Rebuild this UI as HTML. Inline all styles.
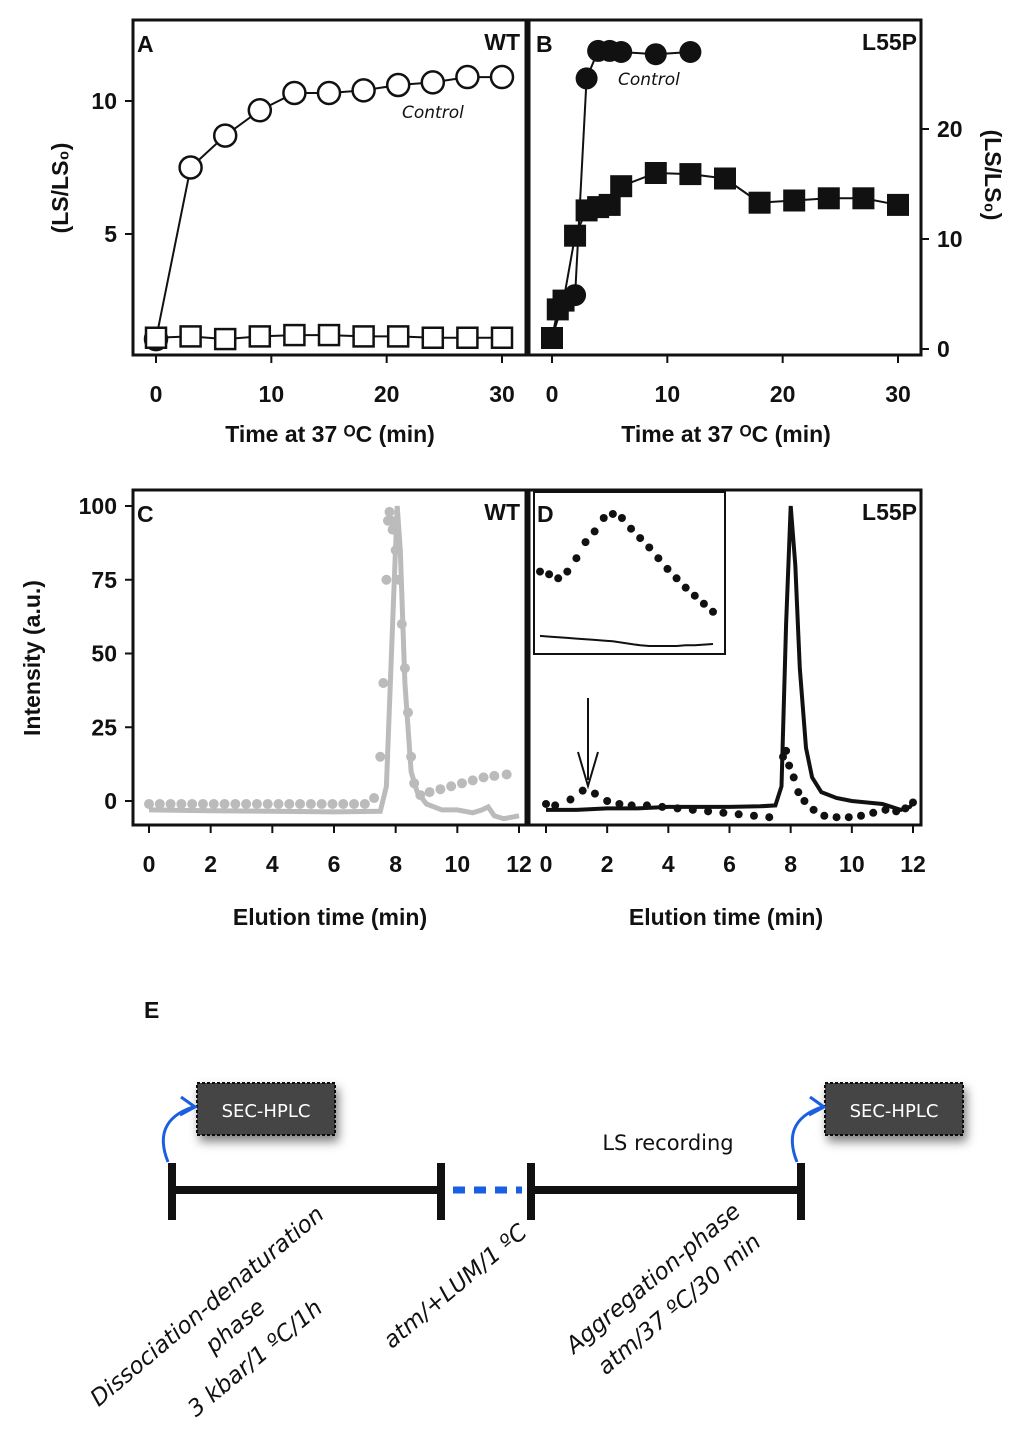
<!DOCTYPE html>
<html><head><meta charset="utf-8"><style>
body{margin:0;background:#fff}
svg{display:block;font-family:"Liberation Sans",sans-serif}
.t{font-weight:bold;font-size:23px;fill:#111}
.h{font-family:"DejaVu Sans",sans-serif;font-size:17px;fill:#111;font-style:italic}
</style></head><body>
<svg id="s" width="1024" height="1434" viewBox="0 0 1024 1434">
<defs><filter id="sh" x="-20%" y="-20%" width="150%" height="170%"><feDropShadow dx="3" dy="6" stdDeviation="5" flood-opacity="0.5"/></filter></defs>
</svg>
<script>
const aTime=[0,3,6,9,12,15,18,21,24,27,30];
const aControl=[1.05,7.5,8.7,9.65,10.3,10.3,10.4,10.6,10.7,10.9,10.9];
const aSample=[1.1,1.15,1.05,1.15,1.2,1.2,1.15,1.15,1.1,1.1,1.1];
const bCtlTime=[0,1,2,3,4,5,6,9,12];
const bControl=[1,4.4,4.9,24.6,27.1,27.1,27,26.8,27];
const bSqTime=[0,0.5,1,2,3,4,5,6,9,12,15,18,21,24,27,30];
const bSample=[1,3.6,4.4,10.3,12.6,12.9,13.1,14.8,16,15.9,15.5,13.3,13.5,13.7,13.7,13.1];
const cSolidT=[0,2,4,6,7.5,7.7,7.9,8.05,8.15,8.3,8.5,8.7,9,9.5,10,10.5,10.8,11,11.2,11.5,12];
const cSolidV=[-3,-3.3,-3.5,-3.7,-3.5,5,60,100,85,40,10,3,-1,-3,-3,-4,-3,-2,-5,-6,-5];
const cDotT=[0,0.35,0.7,1.05,1.4,1.75,2.1,2.45,2.8,3.15,3.5,3.85,4.2,4.55,4.9,5.25,5.6,5.95,6.3,6.65,7,7.3,7.5,7.6,7.7,7.75,7.8,7.85,7.9,8,8.1,8.2,8.3,8.4,8.5,8.6,8.8,9.1,9.45,9.8,10.15,10.5,10.85,11.2,11.6];
const cDotV=[-1,-1,-1,-1,-1,-1,-1,-1,-1,-1,-1,-1,-1,-1,-1,-1,-1,-1,-1,-1,-1,1,15,40,75,95,98,95,92,85,75,60,45,30,15,6,2,3,4,5,6,7,8,8.5,9];
const dSolidT=[0,1,2,3,4,5,6,7,7.5,7.7,7.85,8,8.15,8.3,8.5,8.7,9,9.5,10,10.5,11,11.3,11.6,11.9,12];
const dSolidV=[-3,-3,-2.5,-2.5,-2,-2,-2,-1.8,-1.5,5,60,100,80,45,18,8,3,1,0,-0.5,-1,-2,-3,-2,-0.5];
const dDotT=[0,0.3,0.8,1.2,1.6,2,2.4,2.8,3.3,3.8,4.3,4.8,5.3,5.8,6.3,6.8,7.3,7.75,7.85,7.95,8.1,8.25,8.45,8.75,9.1,9.5,9.9,10.3,10.7,11.1,11.45,11.75,12];
const dDotV=[-1,-1.5,0.5,3.5,2.5,0,-1,-1.5,-1.5,-2,-2.5,-3,-3.5,-4,-4.5,-5,-5.5,15,17,12,8,3,0,-3,-5,-5.5,-5.5,-5,-4,-3,-3.5,-2.5,-0.5];
const insetT=[0,0.5,1,1.5,2,2.5,3,3.5,4,4.5,5,5.5,6,6.5,7,7.5,8,8.5,9,9.5];
const insetV=[0.6,0.58,0.55,0.6,0.7,0.82,0.9,1,1.03,1,0.92,0.85,0.78,0.7,0.62,0.55,0.48,0.42,0.36,0.3];
const insetLineV=[0.12,0.115,0.11,0.105,0.1,0.095,0.09,0.085,0.08,0.07,0.06,0.05,0.045,0.045,0.045,0.045,0.05,0.05,0.055,0.06];
const xTicksAB=[0,10,20,30], yTicksA=[5,10], yTicksB=[0,10,20];
const xTicksCD=[0,2,4,6,8,10,12], yTicksCD=[0,25,50,75,100];

const S=document.getElementById('s'),NS='http://www.w3.org/2000/svg';
function el(t,a,txt,p){const e=document.createElementNS(NS,t);for(const k in a)e.setAttribute(k,a[k]);if(txt!=null)e.textContent=txt;(p||S).appendChild(e);return e;}
function lin(d0,d1,r0,r1){return v=>r0+(v-d0)*(r1-r0)/(d1-d0);}
function pts(xs,ys,X,Y){return xs.map((t,i)=>X(t).toFixed(1)+','+Y(ys[i]).toFixed(1)).join(' ');}

function box(x0,y0,x1,y1,name){let r=el('rect',{x:x0,y:y0,width:x1-x0,height:y1-y0,fill:'none',stroke:'#111','stroke-width':3});
}
function xaxis(X,ticks,yb,ylab,name){ticks.forEach(v=>{el('line',{x1:X(v),x2:X(v),y1:yb,y2:yb+8,stroke:'#111','stroke-width':2});
let t=el('text',{x:X(v),y:ylab,'text-anchor':'middle',class:'t'},v);});}
function yaxis(Y,ticks,xb,dir,name){ticks.forEach(v=>{el('line',{x1:xb,x2:xb+dir*8,y1:Y(v),y2:Y(v),stroke:'#111','stroke-width':2});
let t=el('text',{x:xb+dir*16,y:Y(v)+8,'text-anchor':dir<0?'end':'start',class:'t'},v);});}
function label(x,y,txt,name,extra){let t=el('text',Object.assign({x:x,y:y,class:'t'},extra||{}),txt);return t;}

// Panel A
const XA=lin(0,30,156,502),YA=lin(5,10,234,101);
box(133,20,526,355,'panel-a-frame');xaxis(XA,xTicksAB,355,402,'a-x');yaxis(YA,yTicksA,133,-1,'a-y');
el('polyline',{points:pts(aTime,aControl,XA,YA),fill:'none',stroke:'#111','stroke-width':2});
el('polyline',{points:pts(aTime,aSample,XA,YA),fill:'none',stroke:'#111','stroke-width':2});
aControl.forEach((v,i)=>{let c=el('circle',{cx:XA(aTime[i]),cy:YA(v),r:11,fill:'#fff',stroke:'#111','stroke-width':2.5});});
aSample.forEach((v,i)=>{let c=el('rect',{x:XA(aTime[i])-10,y:YA(v)-10,width:20,height:20,fill:'#fff',stroke:'#111','stroke-width':2.5});});
label(137,52,'A','panel-a-letter');label(520,50,'WT','panel-a-variant',{'text-anchor':'end'});
label(402,118,'Control','a-control-label',{class:'h'});
label(330,442,'Time at 37 \u1D3CC (min)','a-x-title',{'text-anchor':'middle'});
label(0,0,'(LS/LS\u2080)','a-y-title',{transform:'translate(68,188) rotate(-90)','text-anchor':'middle'});

// Panel B
const XB=lin(0,30,552,898),YB=lin(0,20,349,129);
box(529,20,921,355,'panel-b-frame');xaxis(XB,xTicksAB,355,402,'b-x');yaxis(YB,yTicksB,921,1,'b-y');
el('polyline',{points:pts(bCtlTime,bControl,XB,YB),fill:'none',stroke:'#111','stroke-width':2});
el('polyline',{points:pts(bSqTime,bSample,XB,YB),fill:'none',stroke:'#111','stroke-width':2});
bSample.forEach((v,i)=>{let c=el('rect',{x:XB(bSqTime[i])-11,y:YB(v)-11,width:22,height:22,fill:'#111'});});
bControl.forEach((v,i)=>{let c=el('circle',{cx:XB(bCtlTime[i]),cy:YB(v),r:11,fill:'#111'});});
label(536,52,'B','panel-b-letter');label(917,50,'L55P','panel-b-variant',{'text-anchor':'end'});
label(618,85,'Control','b-control-label',{class:'h'});
label(726,442,'Time at 37 \u1D3CC (min)','b-x-title',{'text-anchor':'middle'});
label(0,0,'(LS/LS\u2080)','b-y-title',{transform:'translate(985,175) rotate(90)','text-anchor':'middle'});

// Panel C
const XC=lin(0,12,149,519),YC=lin(0,100,801,506);
box(133,490,526,825,'panel-c-frame');xaxis(XC,xTicksCD,825,872,'c-x');yaxis(YC,yTicksCD,133,-1,'c-y');
el('polyline',{points:pts(cSolidT,cSolidV,XC,YC),fill:'none',stroke:'#bbb','stroke-width':5});
cDotT.forEach((t,i)=>{let c=el('circle',{cx:XC(t),cy:YC(cDotV[i]),r:5,fill:'#bbb'});});
label(137,522,'C','panel-c-letter');label(520,520,'WT','panel-c-variant',{'text-anchor':'end'});
label(330,925,'Elution time (min)','c-x-title',{'text-anchor':'middle'});
label(0,0,'Intensity (a.u.)','c-y-title',{transform:'translate(40,658) rotate(-90)','text-anchor':'middle'});

// Panel D
const XD=lin(0,12,546,913),YD=YC;
box(529,490,921,825,'panel-d-frame');xaxis(XD,xTicksCD,825,872,'d-x');
el('polyline',{points:pts(dSolidT,dSolidV,XD,YD),fill:'none',stroke:'#111','stroke-width':4});
dDotT.forEach((t,i)=>{let c=el('circle',{cx:XD(t),cy:YD(dDotV[i]),r:4,fill:'#111'});});
let ar=el('path',{d:'M588,698 V780 M578,752 L588,786 L598,752',fill:'none',stroke:'#111','stroke-width':2});
let ib=el('rect',{x:534,y:492,width:191,height:162,fill:'#fff',stroke:'#111','stroke-width':2});
const XI=lin(0,9.5,540,713),YI=lin(0,1,652,518);
el('polyline',{points:pts(insetT,insetLineV,XI,YI),fill:'none',stroke:'#111','stroke-width':2});
insetT.forEach((t,i)=>{let c=el('circle',{cx:XI(t),cy:YI(insetV[i]),r:4,fill:'#111'});});
label(537,522,'D','panel-d-letter');label(917,520,'L55P','panel-d-variant',{'text-anchor':'end'});
label(726,925,'Elution time (min)','d-x-title',{'text-anchor':'middle'});

// Panel E
label(144,1018,'E','panel-e-letter',{'font-size':'26'});
function tick(x,name){let l=el('line',{x1:x,x2:x,y1:1163,y2:1220,stroke:'#111','stroke-width':8});}
let l1=el('line',{x1:172,x2:441,y1:1190,y2:1190,stroke:'#111','stroke-width':8});
let l2=el('line',{x1:531,x2:801,y1:1190,y2:1190,stroke:'#111','stroke-width':8});
let l3=el('line',{x1:453,x2:522,y1:1190,y2:1190,stroke:'#1a5fe0','stroke-width':7,'stroke-dasharray':'12,9'});
[172,441,531,801].forEach((x,i)=>tick(x,'timeline-tick-'+i));
function hbox(x,name){let g=el('g',{});
el('rect',{x:x,y:1083,width:138,height:52,fill:'#444',stroke:'#111','stroke-width':2,'stroke-dasharray':'3,2',filter:'url(#sh)'},null,g);
el('text',{x:x+69,y:1117,'text-anchor':'middle',fill:'#fff','font-size':'18','font-family':'DejaVu Sans, sans-serif'},'SEC-HPLC',g);}
hbox(197,'sec-hplc-box-1');hbox(825,'sec-hplc-box-2');
function curl(x,y,name){let p=el('path',{d:`M${x},${y} C${x-10},${y-25} ${x-5},${y-45} ${x+25},${y-55} M${x+13},${y-65} L${x+27},${y-55} L${x+12},${y-47}`,fill:'none',stroke:'#1a5fe0','stroke-width':3});}
curl(168,1162,'arrow-to-hplc-1');curl(797,1162,'arrow-to-hplc-2');
const hs={'font-family':'DejaVu Sans, sans-serif','font-size':'23','font-style':'italic',fill:'#111','text-anchor':'middle'};
function rt(x,y,txt,name){let t=el('text',Object.assign({x:0,y:0,transform:`translate(${x},${y}) rotate(-40)`},hs),txt);}
let ls=el('text',{x:668,y:1150,'text-anchor':'middle','font-family':'DejaVu Sans, sans-serif','font-size':'21',fill:'#111'},'LS recording');
rt(212,1312,'Dissociation-denaturation','phase-1-label');rt(240,1332,'phase','phase-1-label-2');rt(260,1364,'3 kbar/1 ºC/1h','phase-1-conditions');
rt(460,1292,'atm/+LUM/1 ºC','transfer-label');
rt(658,1284,'Aggregation-phase','phase-2-label');rt(684,1310,'atm/37 ºC/30 min','phase-2-conditions');
</script></body></html>
